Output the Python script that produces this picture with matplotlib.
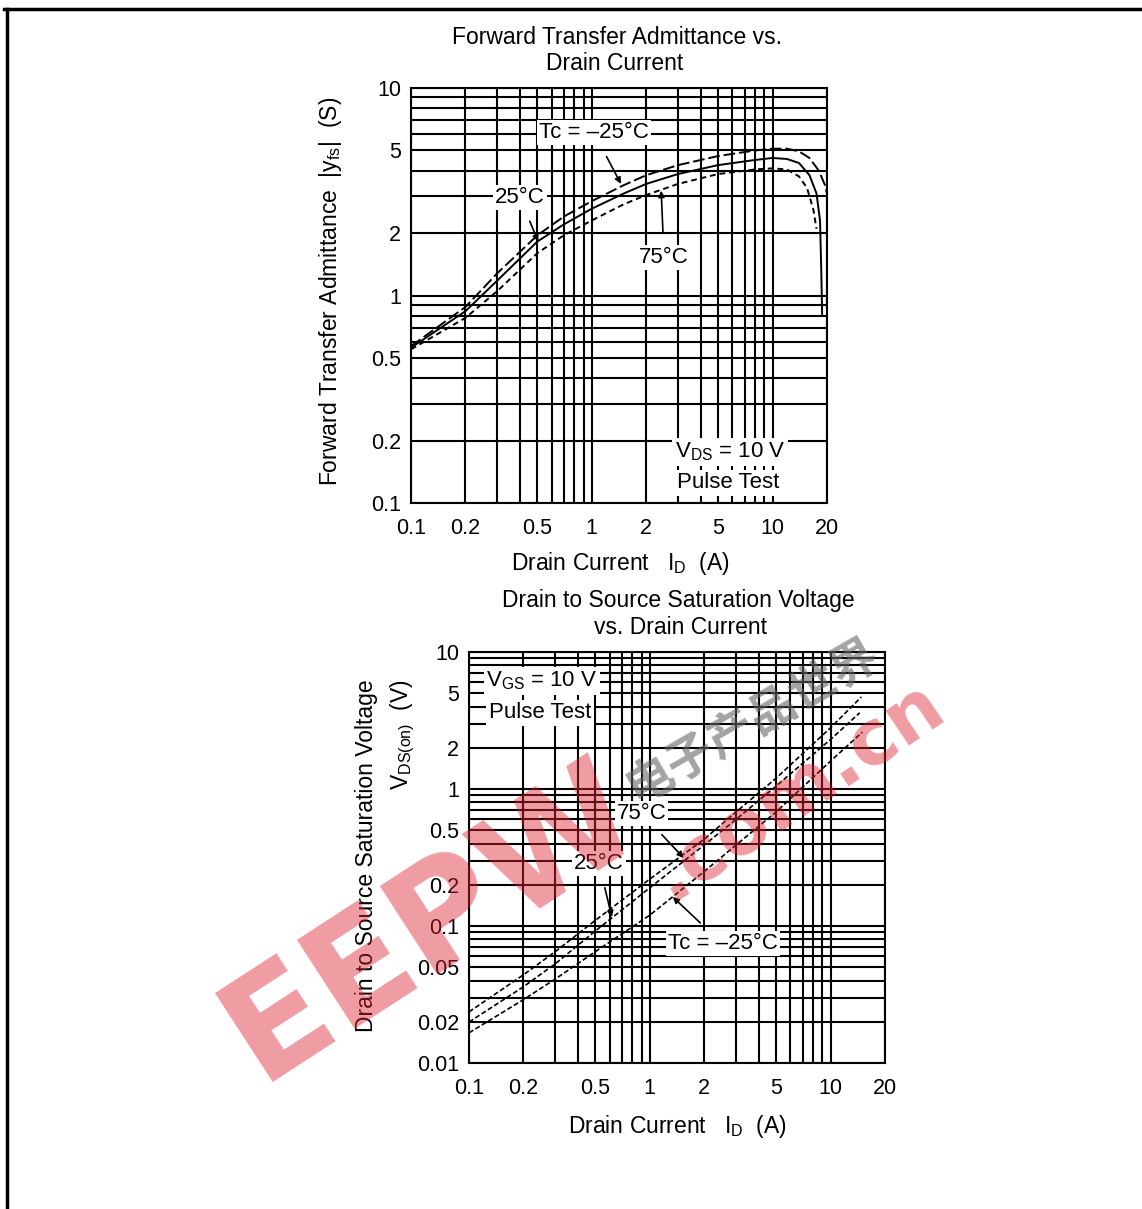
import numpy as np
import matplotlib
matplotlib.use("Agg")
import matplotlib.pyplot as plt
from matplotlib.ticker import FixedLocator, FixedFormatter, LogLocator, NullFormatter
from matplotlib.lines import Line2D

plt.rcParams['font.family'] = ['Liberation Sans', 'DejaVu Sans']
plt.rcParams['mathtext.fontset'] = 'custom'
plt.rcParams['mathtext.rm'] = 'Liberation Sans'
plt.rcParams['mathtext.it'] = 'Liberation Sans'

W, H = 1142, 1209

# ---- data: forward transfer admittance |yfs| (S) vs drain current (A)
yfs_id_m25 = [0.1, 0.2, 0.3, 0.5, 0.7, 1, 1.5, 2, 3, 5, 8, 10, 12, 14, 16, 18, 19.5, 20]
yfs_m25 = [0.57, 0.88, 1.28, 1.95, 2.4, 2.85, 3.4, 3.8, 4.25, 4.7, 5.0, 5.1, 5.1, 4.95, 4.6, 4.0, 3.4, 3.1]
yfs_id_25 = [0.1, 0.2, 0.3, 0.5, 0.7, 1, 1.5, 2, 3, 5, 8, 10, 12, 14, 16, 17.5, 18.3, 18.6, 18.8]
yfs_25 = [0.56, 0.84, 1.18, 1.82, 2.2, 2.62, 3.1, 3.45, 3.85, 4.25, 4.5, 4.6, 4.55, 4.35, 3.8, 3.1, 2.3, 1.3, 0.8]
yfs_id_75 = [0.1, 0.2, 0.3, 0.5, 0.7, 1, 1.5, 2, 3, 5, 8, 10, 12, 14, 15.5, 16.8, 17.5]
yfs_75 = [0.55, 0.78, 1.05, 1.6, 1.95, 2.3, 2.75, 3.05, 3.45, 3.85, 4.05, 4.1, 4.05, 3.75, 3.3, 2.6, 2.1]

# ---- data: drain-source saturation voltage VDS(on) (V) vs drain current (A)
vds_id_m25 = [0.1, 0.2, 0.3, 0.5, 1, 2, 3, 5, 10, 15]
vds_m25 = [0.0166, 0.029, 0.041, 0.065, 0.12, 0.25, 0.39, 0.68, 1.6, 2.6]
vds_id_25 = [0.1, 0.2, 0.3, 0.5, 1, 2, 3, 5, 10, 14.5]
vds_25 = [0.0199, 0.036, 0.053, 0.092, 0.19, 0.39, 0.6, 1.05, 2.3, 3.6]
vds_id_75 = [0.1, 0.2, 0.3, 0.5, 1, 2, 3, 5, 10, 14.8]
vds_75 = [0.0236, 0.044, 0.065, 0.11, 0.22, 0.43, 0.68, 1.2, 2.8, 4.7]

x_ticks = [0.1, 0.2, 0.5, 1, 2, 5, 10, 20]
x_labels = ['0.1', '0.2', '0.5', '1', '2', '5', '10', '20']
top_y_ticks = [0.1, 0.2, 0.5, 1, 2, 5, 10]
top_y_labels = ['0.1', '0.2', '0.5', '1', '2', '5', '10']
bot_y_ticks = [0.01, 0.02, 0.05, 0.1, 0.2, 0.5, 1, 2, 5, 10]
bot_y_labels = ['0.01', '0.02', '0.05', '0.1', '0.2', '0.5', '1', '2', '5', '10']


def fx(x):
    return x / W


def fy(y):
    return 1 - y / H


def setup_axes(ax, yticks, ylabels, ylim):
    ax.set_xscale('log')
    ax.set_yscale('log')
    ax.set_xlim(0.1, 20)
    ax.set_ylim(*ylim)
    for axis, ticks, labels in ((ax.xaxis, x_ticks, x_labels), (ax.yaxis, yticks, ylabels)):
        axis.set_major_locator(FixedLocator(ticks))
        axis.set_major_formatter(FixedFormatter(labels))
        axis.set_minor_locator(LogLocator(base=10, subs=np.arange(1, 10)))
        axis.set_minor_formatter(NullFormatter())
    ax.tick_params(which='both', length=0, labelsize=15.5)
    ax.tick_params(axis='x', pad=11)
    ax.tick_params(axis='y', pad=7)
    ax.grid(True, which='both', color='black', lw=1.5)
    ax.set_axisbelow(True)
    for s in ax.spines.values():
        s.set_linewidth(1.5)


def label(ax, text, xy, xytext):
    ax.annotate(text, xy=xy, xytext=xytext, ha='center', va='center', fontsize=16,
                bbox=dict(fc='white', ec='none', pad=1.5),
                arrowprops=dict(arrowstyle='-|>', color='black', lw=1.2,
                                mutation_scale=9, shrinkA=9, shrinkB=0))


fig = plt.figure(figsize=(W / 100, H / 100), dpi=100)

# frame
fig.add_artist(Line2D([fx(4), fx(1142)], [fy(9), fy(9)], color='black', lw=2.5))
fig.add_artist(Line2D([fx(7), fx(7)], [fy(9), fy(1209)], color='black', lw=2.5))

# ---- top chart
ax1 = fig.add_axes([fx(411), fy(503), 416 / W, 415 / H])
setup_axes(ax1, top_y_ticks, top_y_labels, (0.1, 10))
ax1.plot(yfs_id_m25, yfs_m25, color='black', lw=1.4, dashes=(6, 2))
ax1.plot(yfs_id_25, yfs_25, color='black', lw=1.4)
ax1.plot(yfs_id_75, yfs_75, color='black', lw=1.4, dashes=(3, 2))
label(ax1, 'Tc = \u201325\u00b0C', (1.45, 3.45), (1.03, 6.07))
label(ax1, '25\u00b0C', (0.505, 1.82), (0.40, 2.98))
label(ax1, '75\u00b0C', (2.42, 3.2), (2.51, 1.52))
ax1.text(5.8, 0.176, r'V$_{\rm DS}$ = 10 V', ha='center', va='center', fontsize=16,
         bbox=dict(fc='white', ec='none', pad=2))
ax1.text(5.66, 0.125, 'Pulse Test', ha='center', va='center', fontsize=16,
         bbox=dict(fc='white', ec='none', pad=2))

fig.text(fx(617), fy(37), 'Forward Transfer Admittance vs.', ha='center', va='center', fontsize=16.5)
fig.text(fx(615), fy(64), 'Drain Current', ha='center', va='center', fontsize=16.5)
fig.text(fx(330), fy(291), r'Forward Transfer Admittance  |y$_{\rm fs}$|  (S)',
         ha='center', va='center', rotation=90, fontsize=16.5)
fig.text(fx(620), fy(563), r'Drain Current   I$_{\rm D}$  (A)', ha='center', va='center', fontsize=16.5)

# ---- bottom chart
ax2 = fig.add_axes([fx(469), fy(1063), 416 / W, 411 / H])
setup_axes(ax2, bot_y_ticks, bot_y_labels, (0.01, 10))
ax2.plot(vds_id_m25, vds_m25, color='black', lw=1.2, dashes=(3, 1.5))
ax2.plot(vds_id_25, vds_25, color='black', lw=1.2, dashes=(3, 1.5))
ax2.plot(vds_id_75, vds_75, color='black', lw=1.2, dashes=(3, 1.5))
label(ax2, '75\u00b0C', (1.54, 0.314), (0.90, 0.668))
label(ax2, '25\u00b0C', (0.617, 0.116), (0.523, 0.288))
label(ax2, 'Tc = \u201325\u00b0C', (1.34, 0.163), (2.53, 0.0739))
ax2.text(0.253, 6.14, r'V$_{\rm GS}$ = 10 V', ha='center', va='center', fontsize=16,
         bbox=dict(fc='white', ec='none', pad=2))
ax2.text(0.247, 3.59, 'Pulse Test', ha='center', va='center', fontsize=16,
         bbox=dict(fc='white', ec='none', pad=2))

fig.text(fx(678), fy(600), 'Drain to Source Saturation Voltage', ha='center', va='center', fontsize=16.5)
fig.text(fx(680), fy(627), 'vs. Drain Current', ha='center', va='center', fontsize=16.5)
fig.text(fx(366), fy(856), 'Drain to Source Saturation Voltage', ha='center', va='center',
         rotation=90, fontsize=16.5)
fig.text(fx(403), fy(735), r'V$_{\rm DS(on)}$  (V)', ha='center', va='center',
         rotation=90, fontsize=16.5)
fig.text(fx(677), fy(1127), r'Drain Current   I$_{\rm D}$  (A)', ha='center', va='center', fontsize=16.5)

# ---- watermark
fig.text(fx(432), fy(922), 'EEPW', ha='center', va='center', rotation=33, fontsize=104,
         fontweight='bold', color='#dd2233', alpha=0.45, family='DejaVu Sans', zorder=10)
fig.text(fx(798), fy(790), '.com.cn', ha='center', va='center', rotation=34, fontsize=55,
         fontweight='bold', color='#dd2233', alpha=0.45, family='DejaVu Sans', zorder=10)
fig.text(fx(752), fy(720), '电子产品世界', ha='center', va='center', rotation=30, fontsize=34,
         fontweight='bold', color='#666666', alpha=0.6, family=['Noto Sans CJK SC'], zorder=10)

fig.savefig('out.png', dpi=100)
